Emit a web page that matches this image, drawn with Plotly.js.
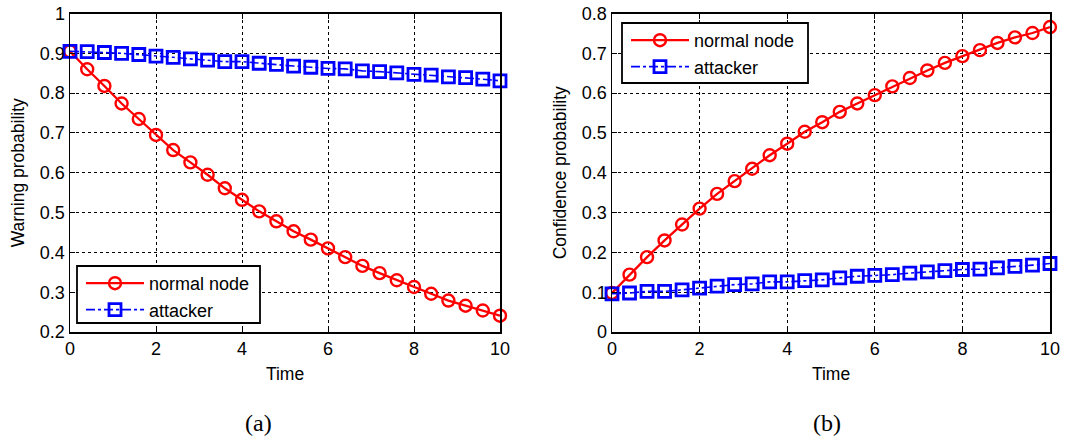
<!DOCTYPE html>
<html>
<head>
<meta charset="utf-8">
<script src="https://cdn.plot.ly/plotly-3.0.1.min.js"></script>
<style>html,body{margin:0;padding:0;background:#fff;}#chart{width:1070px;height:441px;}</style>
</head>
<body>
<div id="chart"></div>
<script>
const time = [0,0.4,0.8,1.2,1.6,2.0,2.4,2.8,3.2,3.6,4.0,4.4,4.8,5.2,5.6,6.0,6.4,6.8,7.2,7.6,8.0,8.4,8.8,9.2,9.6,10];
const warnNormal = [0.905,0.860,0.818,0.774,0.735,0.695,0.657,0.626,0.595,0.561,0.532,0.503,0.478,0.453,0.432,0.410,0.388,0.366,0.348,0.330,0.313,0.296,0.279,0.266,0.254,0.241];
const warnAttacker = [0.905,0.904,0.902,0.900,0.897,0.893,0.890,0.886,0.883,0.879,0.879,0.875,0.872,0.868,0.865,0.862,0.861,0.856,0.854,0.851,0.847,0.845,0.841,0.839,0.835,0.831];
const confNormal = [0.098,0.144,0.188,0.230,0.270,0.310,0.347,0.379,0.410,0.444,0.473,0.503,0.527,0.553,0.574,0.595,0.617,0.638,0.657,0.676,0.693,0.708,0.726,0.740,0.751,0.766];
const confAttacker = [0.096,0.098,0.102,0.102,0.106,0.110,0.115,0.119,0.121,0.126,0.126,0.129,0.131,0.136,0.140,0.142,0.144,0.148,0.151,0.154,0.157,0.158,0.161,0.165,0.168,0.172];
const seriesNames = ['normal node','attacker'];
const xTitle = 'Time';
const yTitles = ['Warning probability','Confidence probability'];
const panelLabels = ['(a)','(b)'];

const FONT = 'Liberation Sans, Arial, sans-serif';
const red = 'rgb(255,0,0)', blue = 'rgb(0,0,255)';
const W = 1070, H = 441;

function normalTrace(y, xa, ya, lg){
  return {x: time, y: y, xaxis: xa, yaxis: ya, legend: lg, name: seriesNames[0], type:'scatter', mode:'lines+markers',
    cliponaxis:false,
    line:{color:red, width:2.3},
    marker:{symbol:'circle-open', size:12, color:red, line:{width:2.4, color:red}}};
}
function attackerTrace(y, xa, ya, lg){
  return {x: time, y: y, xaxis: xa, yaxis: ya, legend: lg, name: seriesNames[1], type:'scatter', mode:'lines+markers',
    cliponaxis:false,
    line:{color:blue, width:1.6, dash:'dashdot'},
    marker:{symbol:'square-open', size:12, color:blue, line:{width:2.8, color:blue}}};
}

const data = [
  normalTrace(warnNormal,'x','y','legend'),
  attackerTrace(warnAttacker,'x','y','legend'),
  normalTrace(confNormal,'x2','y2','legend2'),
  attackerTrace(confAttacker,'x2','y2','legend2')
];

function xAxis(domain, anchor){
  return {domain: domain, anchor: anchor, range:[0,10], dtick:2, tick0:0,
    showline:true, mirror:'ticks', linecolor:'black', linewidth:1.5,
    ticks:'inside', ticklen:5, tickcolor:'black', tickwidth:1,
    showgrid:true, gridcolor:'black', griddash:'dot', gridwidth:1, zeroline:false,
    tickfont:{family:FONT, size:18, color:'black'},
    title:{text:xTitle, font:{family:FONT, size:17.5, color:'black'}, standoff:9}};
}
function yAxis(domain, anchor, range, title){
  return {domain: domain, anchor: anchor, range: range, dtick:0.1, tick0:0,
    showline:true, mirror:'ticks', linecolor:'black', linewidth:1.5,
    ticks:'inside', ticklen:5, tickcolor:'black', tickwidth:1,
    showgrid:true, gridcolor:'black', griddash:'dot', gridwidth:1, zeroline:false,
    tickfont:{family:FONT, size:18, color:'black'},
    title:{text:title, font:{family:FONT, size:17.5, color:'black'}, standoff:10}};
}

function legendBox(x0, y0, x1, y1){
  return {type:'rect', xref:'paper', yref:'paper', x0:x0/W, x1:x1/W, y0:1-y0/H, y1:1-y1/H,
    fillcolor:'white', line:{color:'black', width:1.8}, layer:'above'};
}

const yDom = [1-332/H, 1-13.5/H];
const layout = {
  width:W, height:H,
  margin:{l:0, r:0, t:0, b:0},
  paper_bgcolor:'white', plot_bgcolor:'white',
  showlegend:true,
  xaxis: xAxis([70/W, 500/W], 'y'),
  yaxis: yAxis(yDom, 'x', [0.2,1], yTitles[0]),
  xaxis2: xAxis([612/W, 1050/W], 'y2'),
  yaxis2: yAxis(yDom, 'x2', [0,0.8], yTitles[1]),
  legend:{x:81/W, y:1-265/H, xanchor:'left', yanchor:'top', bgcolor:'rgba(0,0,0,0)', borderwidth:0,
    font:{family:FONT, size:18, color:'black'}, itemwidth:58, tracegroupgap:0},
  legend2:{x:626/W, y:1-22/H, xanchor:'left', yanchor:'top', bgcolor:'rgba(0,0,0,0)', borderwidth:0,
    font:{family:FONT, size:18, color:'black'}, itemwidth:58, tracegroupgap:0},
  shapes:[legendBox(77,266,260,323), legendBox(622,23,808,83)],
  annotations:[
    {text:panelLabels[0], xref:'paper', yref:'paper', x:258/W, y:1-423/H, xanchor:'center', yanchor:'middle', showarrow:false,
      font:{family:'Liberation Serif, Times New Roman, serif', size:24, color:'black'}},
    {text:panelLabels[1], xref:'paper', yref:'paper', x:827/W, y:1-423/H, xanchor:'center', yanchor:'middle', showarrow:false,
      font:{family:'Liberation Serif, Times New Roman, serif', size:24, color:'black'}}
  ]
};

Plotly.newPlot('chart', data, layout, {displayModeBar:false, staticPlot:true});
</script>
</body>
</html>
